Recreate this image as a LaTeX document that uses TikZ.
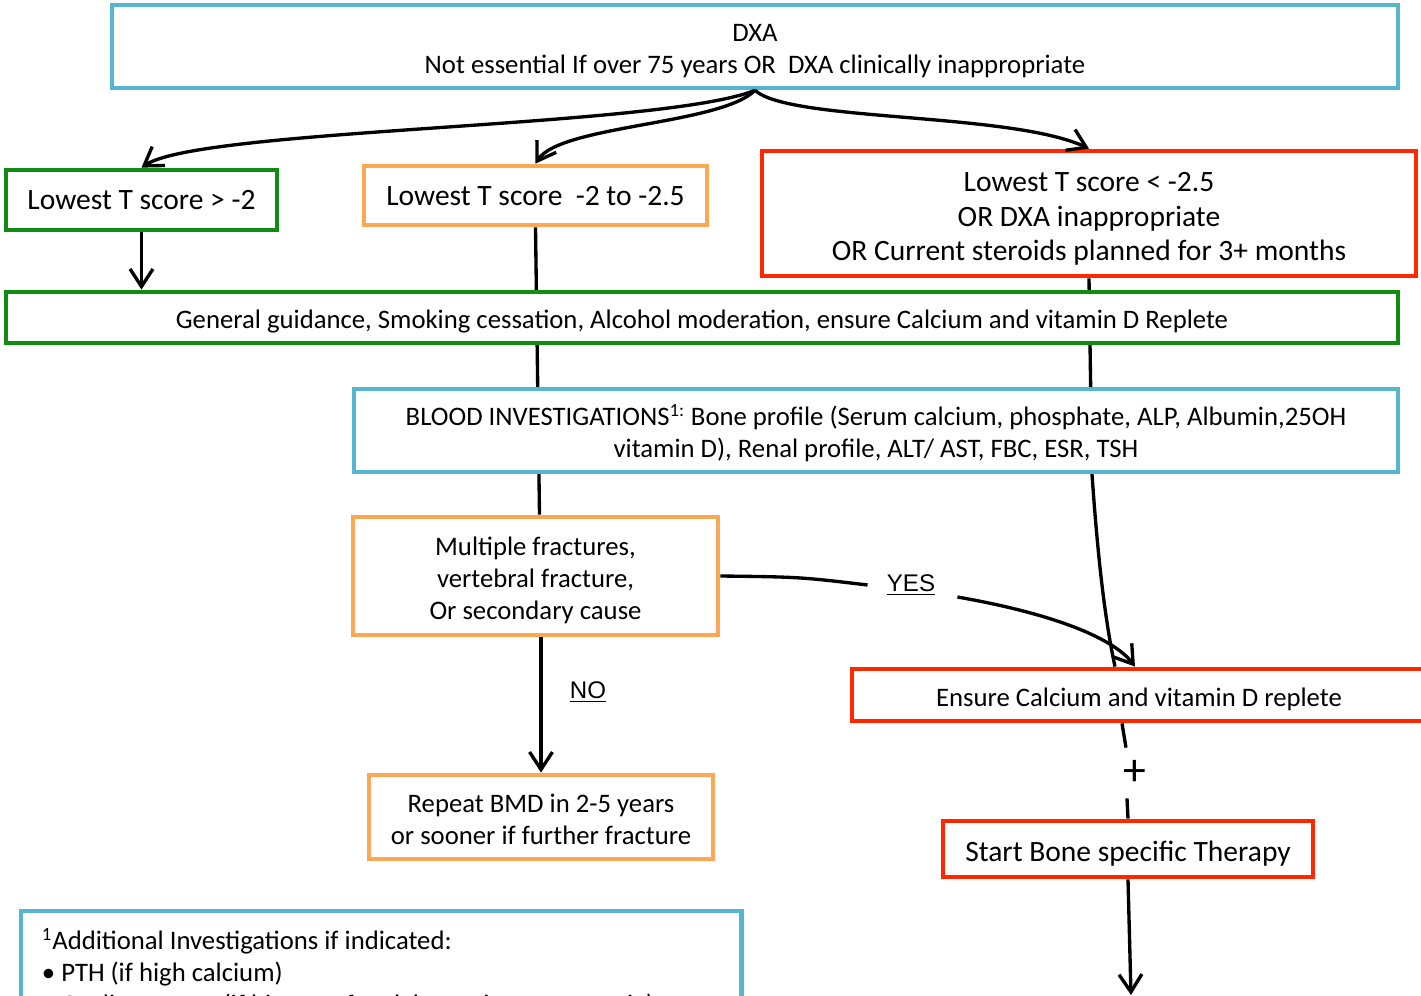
\documentclass[tikz,border=0pt]{standalone}
\usepackage{fontspec}
\setmainfont{Carlito}
\newfontfamily\yesnofont{Liberation Sans}
\usetikzlibrary{positioning,arrows.meta,backgrounds,calc}

\definecolor{dxablue}{RGB}{84,183,207}
\definecolor{okgreen}{RGB}{16,140,16}
\definecolor{midorange}{RGB}{251,167,84}
\definecolor{alertred}{RGB}{255,40,0}

\newcommand{\normaltext}{\fontsize{15.2}{18.2}\selectfont}
\newcommand{\bigtext}{\fontsize{16.8}{19.6}\selectfont}
\newcommand{\capline}{\rule{0pt}{0.85em}}

\tikzset{
  box/.style={draw, line width=2.7pt, fill=white, align=center, inner sep=0pt, text depth=0pt, font=\normaltext},
  bluebox/.style={box, draw=dxablue},
  greenbox/.style={box, draw=okgreen},
  orangebox/.style={box, draw=midorange},
  redbox/.style={box, draw=alertred},
  boxwh/.style 2 args={minimum width=#1*0.02cm, minimum height=#2*0.02cm},
  link/.style={line width=1.9pt},
  arrowlink/.style={link, -{Straight Barb[length=10pt,width=13pt]}},
  answer/.style={font=\yesnofont\fontsize{13.7}{16}\selectfont, inner sep=0pt},
}

\begin{document}
\begin{tikzpicture}[x=0.02cm, y=-0.02cm]
	\useasboundingbox (0,0) rectangle (1421,996);
	% boxes
	\node[bluebox, boxwh={1286}{83}] (dxa) at (755,46.5)
		{\capline DXA\\Not essential If over 75 years OR\ \ DXA clinically inappropriate};
	\node[greenbox, boxwh={271}{60}, font=\bigtext] (low1) at (141.5,200) {Lowest T score > -2};
	\node[orangebox, boxwh={343}{59}, font=\bigtext] (low2) at (535.5,195.5) {Lowest T score\ \ -2 to -2.5};
	\node[redbox, boxwh={654}{125}, font=\bigtext] (low3) at (1089,213.5)
		{\capline Lowest T score < -2.5\\OR DXA inappropriate\\OR Current steroids planned for 3+ months};
	\node[greenbox, boxwh={1392}{51}] (general) at (702,317.5)
		{\capline General guidance, Smoking cessation, Alcohol moderation, ensure Calcium and vitamin D Replete};
	\node[bluebox, boxwh={1044}{83}] (blood) at (876,430.5)
		{\capline BLOOD INVESTIGATIONS\textsuperscript{1:} Bone profile (Serum calcium, phosphate, ALP, Albumin,25OH\\
		vitamin D), Renal profile, ALT/ AST, FBC, ESR, TSH};
	\node[orangebox, boxwh={365}{118}] (multi) at (535.5,576)
		{\capline Multiple fractures,\\vertebral fracture,\\Or secondary cause};
	\node[orangebox, boxwh={344}{84}] (repeat) at (541,817)
		{\capline Repeat BMD in 2-5 years\\or sooner if further fracture};
	\node[redbox, boxwh={574}{52}] (ensure) at (1139,695) {\capline Ensure Calcium and vitamin D replete};
	\node[redbox, boxwh={370}{56}, font=\bigtext] (start) at (1128,849) {\capline Start Bone specific Therapy};
	\node[bluebox, anchor=north west, align=flush left, text width=13.58cm, text depth=1.6cm,
		inner xsep=0.42cm, inner ysep=0.34cm] (extra) at (18.6,908.6)
		{\textsuperscript{1}Additional Investigations if indicated:\\
		\textbullet\ PTH (if high calcium)\\
		\textbullet\ Coeliac screen (if history of malabsorption or anaemia)};
	% labels
	\node[answer] (yes) at (911,585) {\underline{YES}};
	\node[answer] (no) at (588,692) {\underline{NO}};
	\node[inner sep=0pt, minimum height=50*0.02cm, font=\fontsize{26}{26}\selectfont] (plus) at (1135,773) {+};
	\coordinate (out) at (1131,995);
	% connectors
	\draw[arrowlink] (dxa.south) .. controls (660,128) and (200,128) .. (low1.north);
	\draw[arrowlink] (dxa.south) .. controls (720,125) and (560,125) .. (low2.north);
	\draw[arrowlink] (dxa.south) .. controls (790,122) and (1010,112) .. (low3.north);
	\draw[arrowlink] (low1.south) -- (low1.south |- general.north);
	\begin{pgfonlayer}{background}
	\draw[link] (low2.south) -- ($(multi.north)+(4,0)$);
	\draw[link] (low3.south) -- ($(low3.south |- blood.south)+(3,0)$)
		.. controls (1098,560) and (1105,620) .. ($(ensure.north)+(-24,0)$);
	\end{pgfonlayer}
	\draw[link] (multi.east) .. controls (800,577) .. ($(yes.west)+(-19,0)$);
	\draw[arrowlink] ($(yes.east)+(22,12)$) .. controls (1060,615) and (1115,640) .. ($(ensure.north)+(-4,0)$);
	\draw[arrowlink] (repeat.north |- multi.south) -- (repeat.north);
	\draw[link] ($(ensure.south)+(-17,0)$) -- ($(plus.north)+(-9,0)$);
	\draw[link] ($(plus.south)+(-8,0)$) -- (start.north);
	\draw[arrowlink] (start.south) -- (out);
\end{tikzpicture}
\end{document}
